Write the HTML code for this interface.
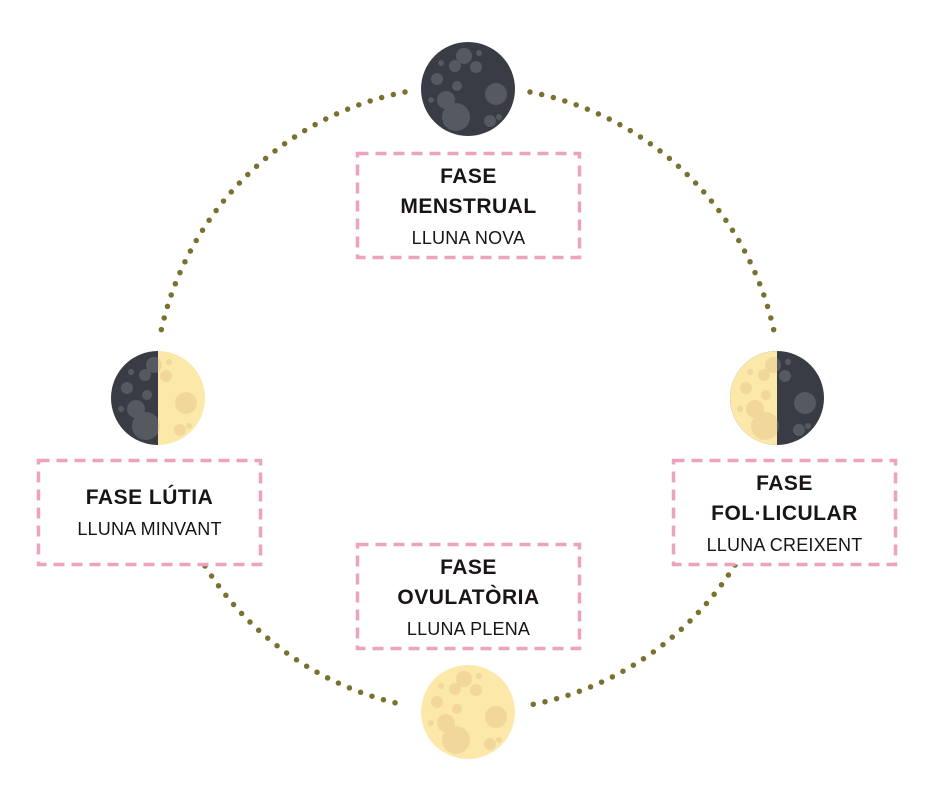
<!DOCTYPE html>
<html><head><meta charset="utf-8"><style>
body{margin:0;background:#fff;width:929px;height:792px;overflow:hidden;position:relative;font-family:"Liberation Sans",sans-serif}
.box{position:absolute;width:225px;height:107px;text-align:center;color:#1a1414;box-sizing:border-box}
.b{font-weight:bold;font-size:21px;line-height:30px;letter-spacing:0.5px}
.s{font-size:18px;line-height:32px;letter-spacing:0.2px}
svg{position:absolute;left:0;top:0}
</style></head><body>
<svg width="929" height="792">
<defs>
<g id="cr">
<circle cx="-4" cy="-33" r="8"/><circle cx="11" cy="-36" r="3"/><circle cx="-27" cy="-26" r="3"/>
<circle cx="-13" cy="-23" r="6"/><circle cx="8" cy="-22" r="6"/><circle cx="-31" cy="-10" r="6"/>
<circle cx="-11" cy="-3" r="5"/><circle cx="28" cy="5" r="11"/><circle cx="-37" cy="11" r="3"/>
<circle cx="-22" cy="11" r="9"/><circle cx="-12" cy="28" r="14"/><circle cx="22" cy="32" r="6"/><circle cx="31" cy="28" r="3"/>
</g>
<g id="dark"><circle r="47" fill="#393c44"/><g fill="#555960"><use href="#cr"/></g></g>
<g id="light"><circle r="47" fill="#fce8a8"/><g fill="#f2d79c"><use href="#cr"/></g></g>
<clipPath id="L"><rect x="-50" y="-50" width="50" height="100"/></clipPath>
</defs>
<g fill="none" stroke="#7a7030" stroke-width="5.5" stroke-linecap="round" stroke-dasharray="0 12">
<path d="M405 92 A311 311 0 0 0 160 336"/>
<path d="M205 566 A311 311 0 0 0 405 705"/>
<path d="M530 92 A311 311 0 0 1 775 336"/>
<path d="M735 565 A311 311 0 0 1 530 705"/>
</g>
<g fill="#fff" stroke="#eda3bf" stroke-width="3.5" stroke-dasharray="11 7">
<rect x="357.5" y="153.5" width="222" height="104"/>
<rect x="38.5" y="460.5" width="222" height="104"/>
<rect x="673.5" y="460.5" width="222" height="104"/>
<rect x="357.5" y="544.5" width="222" height="104"/>
</g>
<g transform="translate(468,89)"><use href="#dark"/></g>
<g transform="translate(468,712)"><use href="#light"/></g>
<g transform="translate(158,398)"><use href="#light"/><g clip-path="url(#L)"><use href="#dark"/></g></g>
<g transform="translate(777,398)"><use href="#dark"/><g clip-path="url(#L)"><use href="#light"/></g></g>
</svg>
<div class="box" style="left:356px;top:152px;padding-top:10px"><div class="b">FASE</div><div class="b">MENSTRUAL</div><div class="s">LLUNA NOVA</div></div>
<div class="box" style="left:37px;top:459px;padding-top:24px"><div class="b">FASE LÚTIA</div><div class="s">LLUNA MINVANT</div></div>
<div class="box" style="left:672px;top:459px;padding-top:10px"><div class="b">FASE</div><div class="b">FOL·LICULAR</div><div class="s">LLUNA CREIXENT</div></div>
<div class="box" style="left:356px;top:543px;padding-top:10px"><div class="b">FASE</div><div class="b">OVULATÒRIA</div><div class="s">LLUNA PLENA</div></div>
</body></html>
